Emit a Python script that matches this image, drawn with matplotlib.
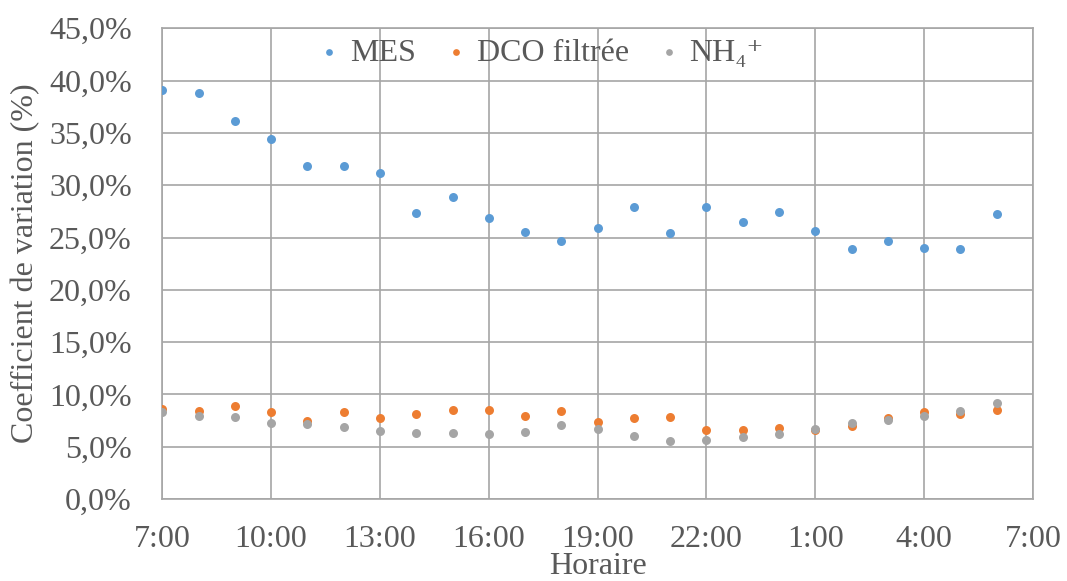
import numpy as np
import matplotlib
matplotlib.use("Agg")
import matplotlib.pyplot as plt
from matplotlib.ticker import FuncFormatter, MultipleLocator

# Coefficient de variation (%) par heure, de 7:00 à 6:00 le lendemain
heures = ["7:00", "8:00", "9:00", "10:00", "11:00", "12:00", "13:00", "14:00",
          "15:00", "16:00", "17:00", "18:00", "19:00", "20:00", "21:00", "22:00",
          "23:00", "0:00", "1:00", "2:00", "3:00", "4:00", "5:00", "6:00"]

mes = [39.1, 38.8, 36.1, 34.4, 31.8, 31.8, 31.2, 27.3, 28.9, 26.9, 25.5, 24.7,
       25.9, 27.9, 25.4, 27.9, 26.5, 27.4, 25.6, 23.9, 24.7, 24.0, 23.9, 27.2]
dco = [8.6, 8.4, 8.9, 8.3, 7.5, 8.3, 7.7, 8.1, 8.5, 8.5, 7.9, 8.4,
       7.4, 7.7, 7.8, 6.6, 6.6, 6.8, 6.6, 7.0, 7.7, 8.3, 8.1, 8.5]
nh4 = [8.3, 7.9, 7.8, 7.3, 7.2, 6.9, 6.5, 6.3, 6.3, 6.2, 6.4, 7.1,
       6.7, 6.0, 5.5, 5.6, 5.9, 6.2, 6.7, 7.3, 7.6, 7.9, 8.4, 9.2]

# graduations de l'axe horaire (toutes les 3 h)
ticks_x = ["7:00", "10:00", "13:00", "16:00", "19:00", "22:00", "1:00", "4:00", "7:00"]


def en_heures(liste):
    # heures écoulées depuis minuit du premier jour (passage de minuit)
    out = []
    prev = -1
    jour = 0
    for h in liste:
        v = int(h.split(":")[0])
        if v < prev:
            jour += 24
        prev = v
        out.append(v + jour)
    return np.array(out)


x = en_heures(heures)
xt = en_heures(ticks_x)

gris_txt = "#595959"
gris_grille = "#A6A6A6"

plt.rcParams["font.family"] = ["Liberation Serif", "DejaVu Serif"]

fig = plt.figure(figsize=(10.67, 5.81), dpi=100)
ax = fig.add_axes([0.1521, 0.1411, 0.8160, 0.8102])

ax.scatter(x, mes, s=42, color="#5B9BD5", label="MES", zorder=3, linewidths=0)
ax.scatter(x, dco, s=42, color="#ED7D31", label="DCO filtrée", zorder=4, linewidths=0)
ax.scatter(x, nh4, s=42, color="#A5A5A5", label="NH\u2084\u207a", zorder=5, linewidths=0)

ax.set_xlim(xt[0], xt[-1])
ax.set_ylim(0, 45)
ax.set_xticks(xt)
ax.set_xticklabels(ticks_x)
ax.yaxis.set_major_locator(MultipleLocator(5))
ax.yaxis.set_major_formatter(FuncFormatter(lambda v, p: f"{v:.1f}%".replace(".", ",")))

ax.grid(True, color=gris_grille, linewidth=1.2, zorder=0)
ax.set_axisbelow(True)
for s in ax.spines.values():
    s.set_color(gris_grille)
    s.set_linewidth(1.2)

ax.tick_params(axis="both", length=0, labelsize=23, labelcolor=gris_txt)
ax.tick_params(axis="y", pad=22)
ax.tick_params(axis="x", pad=19)

ax.set_xlabel("Horaire", fontsize=23, color=gris_txt, labelpad=-2)
ax.set_ylabel("Coefficient de variation (%)", fontsize=23, color=gris_txt, labelpad=6)

leg = ax.legend(loc="center", bbox_to_anchor=(0.507, 0.909), bbox_transform=fig.transFigure,
                ncol=3, frameon=False, fontsize=23, markerscale=0.75,
                handlelength=0.7, handletextpad=0.3, columnspacing=0.9, borderaxespad=0)
for t in leg.get_texts():
    t.set_color(gris_txt)

fig.savefig("out.png", dpi=100)
